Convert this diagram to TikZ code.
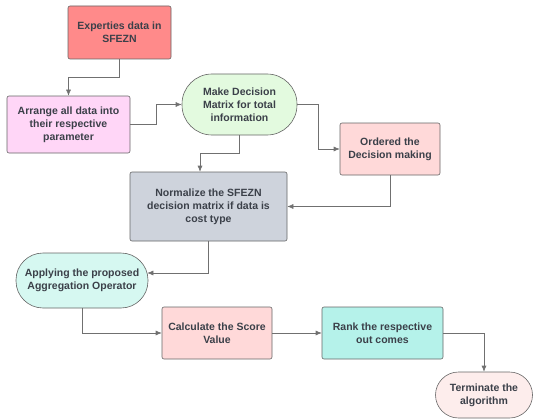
\documentclass[tikz,border=0pt]{standalone}
\usepackage{fontspec}
\setmainfont{Liberation Sans}
\usetikzlibrary{arrows.meta}
\definecolor{txt}{HTML}{3B4049}
\definecolor{edge}{HTML}{707070}
\definecolor{c1}{HTML}{FF8A8A}
\definecolor{c2}{HTML}{FFD6F7}
\definecolor{c3}{HTML}{E3FADF}
\definecolor{c4}{HTML}{FFD9D9}
\definecolor{c5}{HTML}{CED3DC}
\definecolor{c6}{HTML}{D6F8F1}
\definecolor{c8}{HTML}{B5F2EA}
\definecolor{c9}{HTML}{FDEDEC}
\tikzset{
  box/.style={draw=edge!90!black, line width=0.6pt, rounded corners=2pt,
    align=center, inner sep=2pt, text=txt,
    font=\fontsize{10.5}{13}\selectfont\bfseries},
  pill/.style={box, rounded corners=#1},
  conn/.style={draw=edge, line width=0.6pt, -{Latex[length=6pt,width=5pt]}},
}
\begin{document}
\begin{tikzpicture}[x=1pt,y=-1pt]
\useasboundingbox (0,0) rectangle (533,420);
\node[box, fill=c1, minimum width=103pt, minimum height=53pt] (n1) at (119.5,32.5) {Experties data in\\SFEZN};
\node[box, fill=c2, minimum width=123pt, minimum height=57pt] (n2) at (68.5,124.5) {Arrange all data into\\their respective\\parameter};
\node[pill=30pt, fill=c3, minimum width=115pt, minimum height=61pt] (n3) at (239.5,104.5) {Make Decision\\Matrix for total\\information};
\node[box, fill=c4, minimum width=100pt, minimum height=52pt] (n4) at (390,149) {Ordered the\\Decision making};
\node[box, fill=c5, minimum width=157pt, minimum height=69pt] (n5) at (208.5,206.5) {Normalize the SFEZN\\decision matrix if data is\\cost type};
\node[pill=27pt, fill=c6, minimum width=132pt, minimum height=55pt] (n6) at (82,280.5) {Applying the proposed\\Aggregation Operator};
\node[box, fill=c4, minimum width=110pt, minimum height=52pt] (n7) at (217,333) {Calculate the Score\\Value};
\node[box, fill=c8, minimum width=121pt, minimum height=52pt] (n8) at (382.5,333) {Rank the respective\\out comes};
\node[pill=23pt, fill=c9, minimum width=97pt, minimum height=46pt] (n9) at (484,395) {Terminate the\\algorithm};

\draw[conn] (n1.south) -- ++(0,18) -| (n2.north);
\draw[conn] (n2.east) -- ++(26,0) |- (n3.west);
\draw[conn] (n3.east) -- ++(21,0) |- (n4.west);
\draw[conn] (n3.south) -- ++(0,18) -| ([xshift=-8.5pt]n5.north);
\draw[conn] (n4.south) |- (n5.east);
\draw[conn] (n5.south) |- ([shift={(-1,-7.5)}]n6.east);
\draw[conn] (n6.south) |- (n7.west);
\draw[conn] (n7.east) -- (n8.west);
\draw[conn] (n8.east) -| (n9.north);
\end{tikzpicture}
\end{document}
